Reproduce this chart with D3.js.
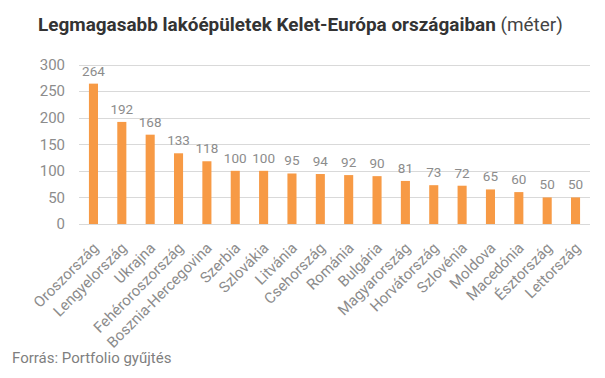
<!DOCTYPE html>
<html lang="hu">
<head>
<meta charset="UTF-8">
<title>Legmagasabb lakóépületek</title>
<script src="https://d3js.org/d3.v7.min.js"></script>
<style>
  body { margin: 0; background: #fff; }
  text { font-family: Roboto, "Noto Sans", sans-serif; }
</style>
</head>
<body>
<script>
// data
const countries = ["Oroszország", "Lengyelország", "Ukrajna", "Fehéroroszország", "Bosznia-Hercegovina",
  "Szerbia", "Szlovákia", "Litvánia", "Csehország", "Románia", "Bulgária", "Magyarország",
  "Horvátország", "Szlovénia", "Moldova", "Macedónia", "Észtország", "Lettország"];
const heights = [264, 192, 168, 133, 118, 100, 100, 95, 94, 92, 90, 81, 73, 72, 65, 60, 50, 50];
const yTicks = [0, 50, 100, 150, 200, 250, 300];

const W = 605, H = 378;
const plotLeft = 79, plotRight = 590, plotTop = 64.5, plotBottom = 224;

const svg = d3.select("body").append("svg")
  .attr("width", W)
  .attr("height", H);

const x = d3.scaleBand()
  .domain(countries)
  .range([plotLeft, plotRight])
  .paddingInner(0.68)
  .paddingOuter(0.35);

const y = d3.scaleLinear()
  .domain([0, 300])
  .range([plotBottom, plotTop]);

// gridlines
svg.append("g")
  .selectAll("line")
  .data(yTicks)
  .join("line")
  .attr("x1", plotLeft)
  .attr("x2", plotRight)
  .attr("y1", d => Math.round(y(d)) + 0.5)
  .attr("y2", d => Math.round(y(d)) + 0.5)
  .attr("stroke", "#d9d9d9")
  .attr("stroke-width", 1);

// y tick labels
svg.append("g")
  .selectAll("text")
  .data(yTicks)
  .join("text")
  .attr("x", 65)
  .attr("y", d => y(d))
  .attr("dy", "0.35em")
  .attr("text-anchor", "end")
  .attr("font-size", 15)
  .attr("fill", "#8c8c8c")
  .text(d => d);

// bars
svg.append("g")
  .selectAll("rect")
  .data(heights)
  .join("rect")
  .attr("x", (d, i) => x(countries[i]))
  .attr("y", d => y(d))
  .attr("width", x.bandwidth())
  .attr("height", d => y(0) - y(d))
  .attr("fill", "#f79a45");

// value labels
svg.append("g")
  .selectAll("text")
  .data(heights)
  .join("text")
  .attr("x", (d, i) => x(countries[i]) + x.bandwidth() / 2)
  .attr("y", d => y(d) - 8)
  .attr("text-anchor", "middle")
  .attr("font-size", 13.5)
  .attr("fill", "#8c8c8c")
  .text(d => d);

// category labels, rotated
svg.append("g")
  .selectAll("text")
  .data(countries)
  .join("text")
  .attr("transform", d => `translate(${x(d) + x.bandwidth() / 2 + 6},${plotBottom + 25}) rotate(-45)`)
  .attr("text-anchor", "end")
  .attr("font-size", 15)
  .attr("fill", "#8c8c8c")
  .text(d => d);

// title
const title = svg.append("text")
  .attr("x", 0)
  .attr("y", 31)
  .attr("font-size", 19)
  .attr("fill", "#333");
title.append("tspan").attr("font-weight", "bold").text("Legmagasabb lakóépületek Kelet-Európa országaiban ");
title.append("tspan").attr("fill", "#444").text("(méter)");
const tw = title.node().getComputedTextLength();
const sx = 525 / tw;
title.attr("transform", `translate(38,0) scale(${sx},1)`);

// source
svg.append("text")
  .attr("x", 12)
  .attr("y", 363)
  .attr("font-size", 15)
  .attr("fill", "#7f7f7f")
  .text("Forrás: Portfolio gyűjtés");
</script>
</body>
</html>
